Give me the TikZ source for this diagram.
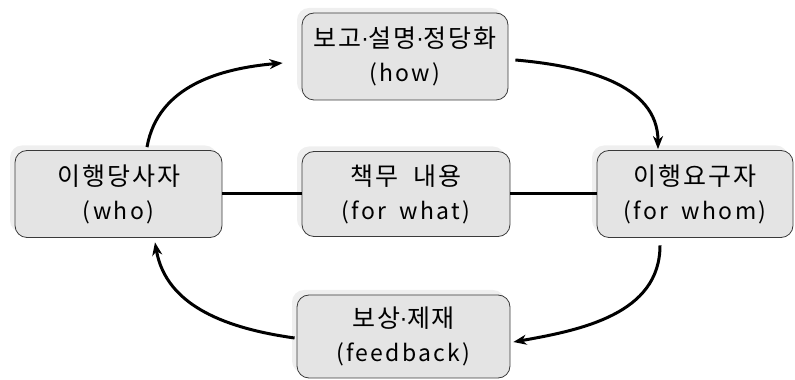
\documentclass[tikz,border=0pt]{standalone}
\usepackage{fontspec}
\newfontfamily\krfont[LetterSpace=8]{Noto Sans CJK KR}
\newfontfamily\enfont[LetterSpace=10]{Noto Sans CJK KR}
\newfontfamily\dotfont{DejaVu Sans}
\usetikzlibrary{arrows.meta,positioning,shadows}
\definecolor{boxfill}{HTML}{E4E4E4}
\definecolor{boxline}{HTML}{3A3A3A}
\definecolor{boxshade}{HTML}{EFEFEF}
\tikzset{
  party/.style={draw=boxline,fill=boxfill,line width=0.8pt,rounded corners=12pt,
    minimum width=#1,minimum height=87pt,align=center,inner sep=0pt,
    font=\fontsize{25}{34}\selectfont,
    general shadow={fill=boxshade,shadow xshift=-5pt,shadow yshift=5pt}},
  cycle/.style={line width=3pt,-{Stealth[length=13pt,width=10pt,inset=4pt]}},
  link/.style={line width=3pt}
}
\newcommand{\md}{{\dotfont\fontsize{22}{34}\selectfont·}}
\newcommand{\twoline}[2]{{\krfont #1}\\{\enfont\fontsize{23}{34}\selectfont #2}}

\begin{document}
\begin{tikzpicture}[x=1pt,y=1pt]
\useasboundingbox (0,0) rectangle (795,380);
% boxes
\node[party=207pt] (who) at (118.5,186) {\twoline{이행당사자}{(who)}};
\node[party=206pt] (how) at (405,323.5) {\twoline{보고\md 설명\md 정당화}{(how)}};
\node[party=208pt,minimum height=85pt] (what) at (406,186) {\twoline{책무\hspace{8pt} 내용}{(for\hspace{6pt} what)}};
\node[party=196pt] (whom) at (695,186) {\twoline{이행요구자}{(for\hspace{6pt} whom)}};
\node[party=213pt,minimum height=83pt] (fb) at (403.5,43.5) {\twoline{보상\md 제재}{(feedback)}};
% links
\draw[link] (who) -- (what);
\draw[link] (what) -- (whom);
% cycle
\draw[cycle] ([xshift=28.5pt,yshift=3pt]who.north) to[out=80,in=185] ([xshift=-19pt,yshift=-6.5pt]how.west);
\draw[cycle] ([xshift=7pt,yshift=-3.5pt]how.east) to[out=-5,in=90] ([xshift=-37pt,yshift=1pt]whom.north);
\draw[cycle] ([xshift=-35pt,yshift=-7.5pt]whom.south) to[out=-90,in=10] ([xshift=3pt,yshift=-5.5pt]fb.east);
\draw[cycle] ([xshift=-2pt,yshift=-1.5pt]fb.west) to[out=172,in=-80] ([xshift=36.5pt,yshift=-4.5pt]who.south);
\end{tikzpicture}
\end{document}
